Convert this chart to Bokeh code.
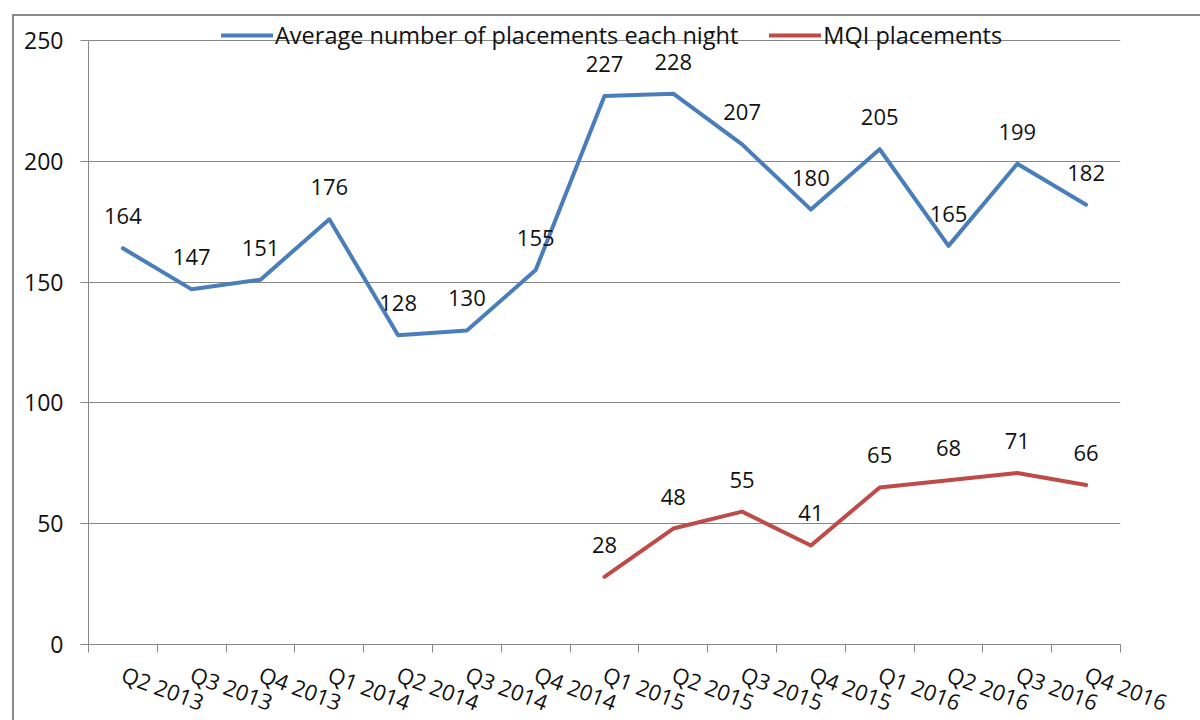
import math
from bokeh.plotting import figure
from bokeh.models import Range1d, FixedTicker, Legend, LegendItem, ColumnDataSource
from bokeh.core.properties import value
from bokeh.embed import file_html
from bokeh.resources import INLINE

quarters = ["Q2 2013", "Q3 2013", "Q4 2013", "Q1 2014", "Q2 2014", "Q3 2014", "Q4 2014",
            "Q1 2015", "Q2 2015", "Q3 2015", "Q4 2015", "Q1 2016", "Q2 2016", "Q3 2016", "Q4 2016"]
avg_placements = [164, 147, 151, 176, 128, 130, 155, 227, 228, 207, 180, 205, 165, 199, 182]
mqi_quarters = ["Q1 2015", "Q2 2015", "Q3 2015", "Q4 2015", "Q1 2016", "Q2 2016", "Q3 2016", "Q4 2016"]
mqi_placements = [28, 48, 55, 41, 65, 68, 71, 66]
y_ticks = [0, 50, 100, 150, 200, 250]

FONT = "Open Sans"
BLUE = "#4A7EBB"
RED = "#BE4B48"
GRID = "#878787"
TXT = "#111111"

pos = {q: i + 0.5 for i, q in enumerate(quarters)}
x_avg = [pos[q] for q in quarters]
x_mqi = [pos[q] for q in mqi_quarters]

src_avg = ColumnDataSource(dict(x=x_avg, y=avg_placements, lbl=[str(v) for v in avg_placements]))
src_mqi = ColumnDataSource(dict(x=x_mqi, y=mqi_placements, lbl=[str(v) for v in mqi_placements]))

# headroom above the 250 line so the legend (which sits across the top gridline) is not clipped
Y_TOP = 250 + 24 * 250 / 604

p = figure(width=1190, height=717, output_backend="svg", toolbar_location=None,
           x_range=Range1d(0, len(quarters)), y_range=Range1d(0, Y_TOP),
           min_border_left=74, min_border_top=0, min_border_right=84, min_border_bottom=76)
p.styles = {"margin-left": "12px", "margin-top": "14px",
            "border-left": "2px solid #8a8a8a", "border-top": "2px solid #8a8a8a"}
p.outline_line_color = None
p.background_fill_color = "white"
p.border_fill_color = "white"

r1 = p.line("x", "y", source=src_avg, line_color=BLUE, line_width=4, line_join="round", line_cap="round")
r2 = p.line("x", "y", source=src_mqi, line_color=RED, line_width=4, line_join="round", line_cap="round")

for src in (src_avg, src_mqi):
    p.text("x", "y", text="lbl", source=src, text_align="center", text_baseline="alphabetic",
           y_offset=-32, text_font=value(FONT), text_font_size="22px", text_color=TXT)

# grid
p.xgrid.grid_line_color = None
p.ygrid.grid_line_color = GRID
p.ygrid.grid_line_width = 1
p.ygrid.ticker = FixedTicker(ticks=y_ticks)

# y axis
yax = p.yaxis[0]
yax.ticker = FixedTicker(ticks=y_ticks)
yax.bounds = (0, 250)
yax.axis_line_color = GRID
yax.major_tick_line_color = GRID
yax.major_tick_out = 8
yax.major_tick_in = 0
yax.minor_tick_line_color = None
yax.major_label_standoff = 17
yax.major_label_text_font = FONT
yax.major_label_text_font_size = "23px"
yax.major_label_text_color = TXT

# x axis
xax = p.xaxis[0]
xax.ticker = FixedTicker(ticks=x_avg, minor_ticks=list(range(len(quarters) + 1)))
xax.major_label_overrides = {pos[q]: q for q in quarters}
xax.axis_line_color = GRID
xax.major_tick_line_color = None
xax.major_tick_out = 0
xax.major_tick_in = 0
xax.minor_tick_line_color = GRID
xax.minor_tick_out = 8
xax.minor_tick_in = 0
xax.major_label_orientation = -0.36
xax.major_label_standoff = 20
xax.major_label_text_font = FONT
xax.major_label_text_font_size = "22px"
xax.major_label_text_color = TXT

legend = Legend(items=[LegendItem(label="Average number of placements each night", renderers=[r1]),
                       LegendItem(label="MQI placements", renderers=[r2])],
                orientation="horizontal", location=(133, 593),
                background_fill_alpha=0, border_line_color=None,
                padding=0, margin=0, spacing=31, label_standoff=2,
                glyph_width=52, glyph_height=20,
                label_text_font=FONT, label_text_font_size="23.5px", label_text_color=TXT)
p.add_layout(legend, "center")

open("out.html", "w").write(file_html(p, INLINE))
